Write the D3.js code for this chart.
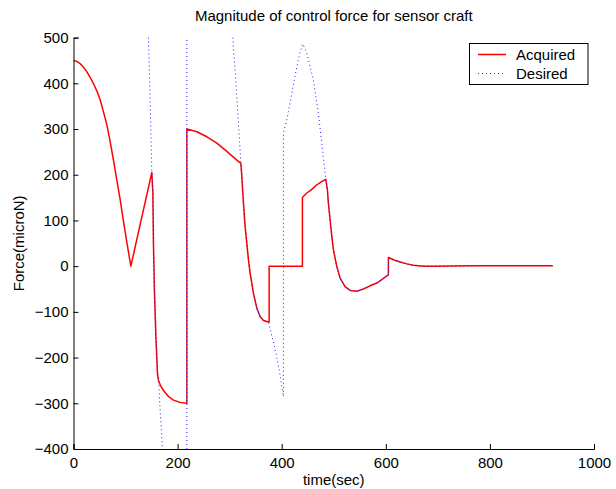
<!DOCTYPE html>
<html>
<head>
<meta charset="utf-8">
<script src="https://cdn.jsdelivr.net/npm/d3@7"></script>
<style>
body { margin: 0; background: #fff; }
text { font-family: "Liberation Sans", Arial, sans-serif; fill: #000; }
</style>
</head>
<body>
<div id="chart-area"></div>
<script>
// values: time in sec, force in microN
let acquiredTime = [0, 6.4, 12.9, 19.3, 25.7, 32, 38.4, 45, 51.2, 57.5, 64.1, 70.5, 76.8, 83, 89.6, 96, 102.5, 110.2,
	150.5, 152.5, 153.6, 155.6, 158.3, 161.3, 163.3, 167.5, 172.9, 182.4, 192, 204.9, 217.8,
	217.8, 237, 256.2, 275.4, 294.6, 313.8, 321.5,
	323.4, 326.5, 329.7, 333, 336.1, 339.3, 345.7, 352.2, 358.5, 364.9, 374.5, 375.9,
	375.9, 439.8,
	439.8, 448.2, 457.8, 467.4, 477, 484.7,
	487.8, 489.7, 493, 496.3, 499.3, 505.9, 512.2, 521.8, 531.4, 544.3, 556.9, 569.8, 582.7, 605,
	605, 614.6, 627.5, 640.3, 653, 672.2, 691.4, 770, 921];
let acquiredForce = [450, 448, 443, 435, 425, 413, 399, 383, 364, 338, 309, 272, 232, 190, 146, 98, 52, 0,
	205, 160, 50, -59, -154, -234, -250, -262, -272, -285, -293, -298, -300,
	300, 294, 283, 269, 251, 232, 225,
	196, 138, 87, 50, 14, -15, -59, -92, -110, -119, -122, -122,
	0, 0,
	150, 160, 168, 178, 185, 190,
	167, 138, 101, 65, 36, -1, -26, -45, -53, -55, -50, -43, -37, -19,
	19, 14, 9, 5, 2, 0, 0, 1, 1];

// null marks where the desired force leaves the plotted range
let desiredTime = [144, 147, 150.5, 152.5, 153.6, 155.6, 158.3, 161.3, 163.3, 167, 171, null,
	217.8, 217.8, null,
	306.1, 307.3, 310.5, 313.8, 316.9, 320.1, 321.5,
	323.4, 326.5, 329.7, 333, 336.1, 339.3, 345.7, 352.2, 358.5, 364.9, 374.5,
	385, 395, 403.3,
	403.3, 409.8, 419.4, 429, 435.4, 440.6, 448.2, 460.9, 470.5, 477, 484.7,
	487.8, 489.7, 493, 496.3, 499.3, 505.9, 512.2, 521.8, 531.4, 544.3, 556.9, 569.8, 582.7, 605,
	605, 614.6, 627.5, 640.3, 653, 672.2, 691.4, 770, 921];
let desiredForce = [500, 380, 205, 160, 50, -59, -154, -234, -250, -325, -400, null,
	-400, 500, null,
	500, 473, 429, 371, 313, 254, 225,
	196, 138, 87, 50, 14, -15, -59, -92, -110, -119, -122,
	-170, -225, -285,
	291, 320, 378, 436, 469, 486, 466, 407, 334, 269, 190,
	167, 138, 101, 65, 36, -1, -26, -45, -53, -55, -50, -43, -37, -19,
	19, 14, 9, 5, 2, 0, 0, 1, 1];

let xTicks = [0, 200, 400, 600, 800, 1000];
let yTicks = [-400, -300, -200, -100, 0, 100, 200, 300, 400, 500];

let seriesNames = ["Acquired", "Desired"];

// SVG Size
let width_raw = 616,
	height_raw = 489;

let plot = {left: 73.5, right: 594, top: 37.6, bottom: 449};

let svg = d3.select("#chart-area")
	.append("svg")
	.attr("width", width_raw)
	.attr("height", height_raw);

let xScale = d3.scaleLinear()
	.domain([0, 1000])
	.range([plot.left, plot.right]);

let yScale = d3.scaleLinear()
	.domain([-400, 500])
	.range([plot.bottom, plot.top]);

let acquired = acquiredTime.map((t, i) => ({t: t, v: acquiredForce[i]}));
let desired = desiredTime.map((t, i) => ({t: t, v: desiredForce[i]}));

let line = d3.line()
	.defined(d => d.v !== null)
	.x(d => xScale(d.t))
	.y(d => yScale(d.v));

svg.append("path")
	.datum(acquired)
	.attr("fill", "none")
	.attr("stroke", "#ff0000")
	.attr("stroke-width", 1.5)
	.attr("stroke-linejoin", "round")
	.attr("d", line);

svg.append("path")
	.datum(desired)
	.attr("fill", "none")
	.attr("stroke", "#2020ff")
	.attr("stroke-width", 1)
	.attr("stroke-dasharray", "1,3")
	.attr("d", line);

// Axes
let xAxis = d3.axisBottom(xScale)
	.tickValues(xTicks)
	.tickSize(-5)
	.tickPadding(8)
	.tickFormat(d3.format("d"));

let yAxis = d3.axisLeft(yScale)
	.tickValues(yTicks)
	.tickSize(-5)
	.tickPadding(5);

let xGroup = svg.append("g")
	.attr("transform", "translate(0," + plot.bottom + ")")
	.call(xAxis);

let yGroup = svg.append("g")
	.attr("transform", "translate(" + plot.left + ",0)")
	.call(yAxis);

[xGroup, yGroup].forEach(g => {
	g.selectAll("path").attr("stroke", "#000");
	g.selectAll("line").attr("stroke", "#000");
	g.selectAll("text")
		.style("font-family", "'Liberation Sans', Arial, sans-serif")
		.style("font-size", "15px")
		.attr("fill", "#000");
});

// Title and labels
svg.append("text")
	.attr("x", (plot.left + plot.right) / 2)
	.attr("y", 21)
	.attr("text-anchor", "middle")
	.style("font-size", "15px")
	.text("Magnitude of control force for sensor craft");

svg.append("text")
	.attr("x", (plot.left + plot.right) / 2)
	.attr("y", 485)
	.attr("text-anchor", "middle")
	.style("font-size", "15px")
	.text("time(sec)");

svg.append("text")
	.attr("transform", "translate(24," + (plot.top + plot.bottom) / 2 + ") rotate(-90)")
	.attr("text-anchor", "middle")
	.style("font-size", "15px")
	.text("Force(microN)");

// Legend
let legend = svg.append("g");

legend.append("rect")
	.attr("x", 469.5)
	.attr("y", 43.5)
	.attr("width", 118.5)
	.attr("height", 41)
	.attr("fill", "#fff")
	.attr("stroke", "#000");

let legendStyles = [
	{stroke: "#ff0000", width: 1.5, dash: null},
	{stroke: "#2020ff", width: 1, dash: "1,3"}
];

seriesNames.forEach((name, i) => {
	let y = 54.5 + i * 19;
	legend.append("line")
		.attr("x1", 478)
		.attr("x2", 506)
		.attr("y1", y)
		.attr("y2", y)
		.attr("stroke", legendStyles[i].stroke)
		.attr("stroke-width", legendStyles[i].width)
		.attr("stroke-dasharray", legendStyles[i].dash);
	legend.append("text")
		.attr("x", 516)
		.attr("y", y + 5.3)
		.style("font-size", "15px")
		.text(name);
});
</script>
</body>
</html>
